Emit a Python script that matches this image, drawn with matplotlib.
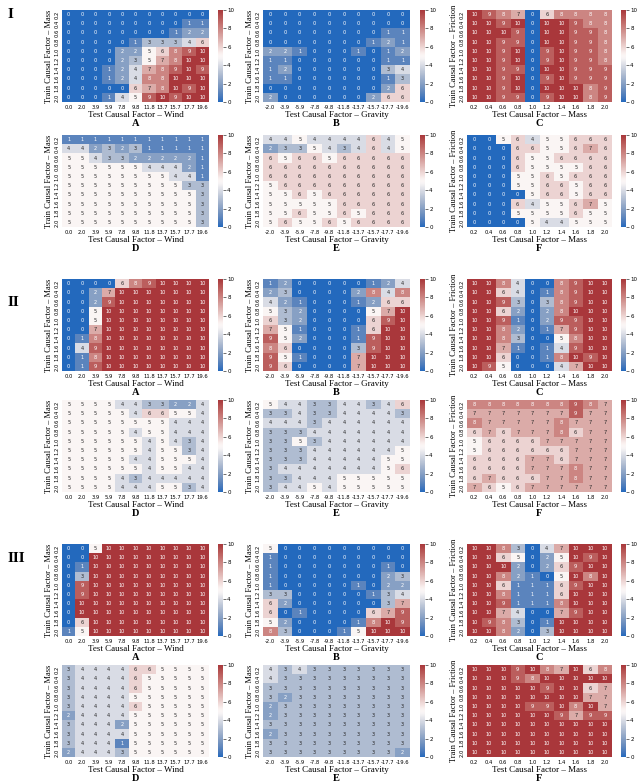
import numpy as np
import matplotlib
matplotlib.use("Agg")
import matplotlib.pyplot as plt
import seaborn as sns

# ---- tick labels ----
wind = ["0.0", "2.0", "3.9", "5.9", "7.8", "9.8", "11.8", "13.7", "15.7", "17.7", "19.6"]
gravity = ["-2.0", "-3.9", "-5.9", "-7.8", "-9.8", "-11.8", "-13.7", "-15.7", "-17.7", "-19.6"]
mass = ["0.2", "0.4", "0.6", "0.8", "1.0", "1.2", "1.4", "1.6", "1.8", "2.0"]
train = ["0.2", "0.4", "0.6", "0.8", "1.0", "1.2", "1.4", "1.6", "1.8", "2.0"]

# ---- section I ----
I_A = [[0, 0, 0, 0, 0, 0, 0, 0, 0, 0, 0],
       [0, 0, 0, 0, 0, 0, 0, 0, 0, 1, 1],
       [0, 0, 0, 0, 0, 0, 0, 0, 1, 2, 2],
       [0, 0, 0, 0, 0, 1, 3, 3, 3, 4, 6],
       [0, 0, 0, 0, 2, 2, 5, 6, 8, 9, 10],
       [0, 0, 0, 0, 2, 3, 5, 7, 8, 10, 10],
       [0, 0, 0, 1, 2, 4, 7, 8, 9, 10, 9],
       [0, 0, 0, 1, 2, 4, 8, 8, 10, 10, 10],
       [0, 0, 0, 0, 0, 6, 7, 8, 10, 9, 10],
       [0, 0, 0, 1, 4, 5, 9, 10, 9, 10, 10]]
I_B = [[0, 0, 0, 0, 0, 0, 0, 0, 0, 0],
       [0, 0, 0, 0, 0, 0, 0, 0, 0, 0],
       [0, 0, 0, 0, 0, 0, 0, 0, 1, 1],
       [0, 0, 0, 0, 0, 0, 0, 1, 2, 1],
       [2, 2, 1, 0, 0, 0, 1, 0, 1, 2],
       [1, 1, 0, 0, 0, 0, 0, 0, 1, 1],
       [1, 2, 0, 0, 0, 0, 0, 0, 3, 4],
       [1, 1, 0, 0, 0, 0, 0, 0, 1, 3],
       [0, 0, 0, 0, 0, 0, 0, 0, 2, 6],
       [2, 0, 0, 0, 0, 0, 0, 2, 6, 6]]
I_C = [[10, 9, 8, 7, 0, 6, 8, 8, 8, 8],
       [10, 10, 9, 10, 0, 10, 10, 9, 8, 8],
       [10, 10, 10, 9, 0, 10, 10, 9, 9, 8],
       [10, 10, 9, 9, 0, 10, 10, 9, 9, 8],
       [10, 10, 9, 10, 0, 9, 10, 9, 9, 8],
       [10, 10, 9, 10, 0, 9, 10, 9, 9, 8],
       [10, 10, 9, 9, 0, 10, 10, 9, 9, 9],
       [10, 10, 9, 10, 0, 9, 10, 9, 9, 9],
       [10, 10, 9, 10, 0, 10, 10, 10, 8, 9],
       [10, 10, 9, 9, 0, 9, 10, 10, 8, 9]]
I_D = [[1, 1, 1, 1, 1, 1, 1, 1, 1, 1, 1],
       [4, 4, 2, 3, 2, 3, 1, 1, 1, 1, 1],
       [5, 5, 4, 3, 3, 2, 2, 2, 2, 2, 1],
       [5, 5, 5, 5, 5, 5, 4, 4, 4, 2, 1],
       [5, 5, 5, 5, 5, 5, 5, 5, 4, 4, 1],
       [5, 5, 5, 5, 5, 5, 5, 5, 5, 3, 3],
       [5, 5, 5, 5, 5, 5, 5, 5, 5, 5, 3],
       [5, 5, 5, 5, 5, 5, 5, 5, 5, 5, 3],
       [5, 5, 5, 5, 5, 5, 5, 5, 5, 5, 3],
       [5, 5, 5, 5, 5, 5, 5, 5, 5, 5, 3]]
I_E = [[4, 4, 5, 4, 4, 4, 4, 6, 4, 5],
       [2, 3, 3, 5, 4, 3, 4, 6, 4, 5],
       [6, 5, 6, 6, 5, 6, 6, 6, 6, 6],
       [6, 6, 6, 6, 6, 6, 6, 6, 6, 6],
       [6, 6, 6, 6, 6, 6, 6, 6, 6, 6],
       [5, 6, 6, 6, 6, 6, 6, 6, 6, 6],
       [5, 5, 6, 5, 6, 6, 6, 6, 6, 6],
       [5, 5, 5, 5, 5, 6, 6, 6, 6, 6],
       [5, 5, 6, 5, 5, 6, 5, 6, 6, 6],
       [5, 6, 5, 5, 6, 5, 6, 6, 6, 6]]
I_F = [[0, 0, 5, 6, 4, 5, 5, 6, 6, 6],
       [0, 0, 0, 6, 6, 5, 5, 6, 7, 6],
       [0, 0, 0, 6, 5, 5, 6, 6, 6, 6],
       [0, 0, 0, 6, 5, 5, 5, 5, 6, 6],
       [0, 0, 0, 5, 5, 6, 5, 6, 6, 6],
       [0, 0, 0, 5, 5, 6, 6, 5, 6, 6],
       [0, 0, 0, 0, 5, 6, 6, 5, 6, 6],
       [0, 0, 0, 6, 4, 5, 5, 6, 7, 5],
       [0, 0, 0, 5, 5, 5, 5, 6, 5, 5],
       [0, 0, 0, 0, 5, 4, 4, 5, 5, 5]]

# ---- section II ----
II_A = [[0, 0, 0, 0, 6, 8, 9, 10, 10, 10, 10],
        [0, 0, 2, 7, 10, 10, 10, 10, 10, 10, 10],
        [0, 0, 2, 9, 10, 10, 10, 10, 10, 10, 10],
        [0, 0, 5, 10, 10, 10, 10, 10, 10, 10, 10],
        [0, 0, 5, 10, 10, 10, 10, 10, 10, 10, 10],
        [0, 0, 7, 10, 10, 10, 10, 10, 10, 10, 10],
        [0, 1, 8, 10, 10, 10, 10, 10, 10, 10, 10],
        [0, 4, 9, 10, 10, 10, 10, 10, 10, 10, 10],
        [0, 1, 8, 10, 10, 10, 10, 10, 10, 10, 10],
        [0, 1, 9, 10, 10, 10, 10, 10, 10, 10, 10]]
II_B = [[1, 2, 0, 0, 0, 0, 0, 1, 2, 4],
        [2, 3, 0, 0, 0, 0, 2, 8, 4, 8],
        [4, 2, 1, 0, 0, 0, 1, 2, 6, 6],
        [5, 3, 2, 0, 0, 0, 0, 5, 7, 10],
        [6, 3, 2, 0, 0, 0, 0, 6, 9, 10],
        [7, 5, 1, 0, 0, 0, 1, 6, 10, 10],
        [9, 5, 2, 0, 0, 0, 1, 9, 10, 10],
        [8, 6, 0, 0, 0, 0, 3, 9, 10, 10],
        [9, 5, 1, 0, 0, 0, 7, 10, 10, 10],
        [9, 6, 0, 0, 0, 0, 7, 10, 10, 10]]
II_C = [[10, 10, 8, 4, 0, 0, 8, 9, 10, 10],
        [10, 10, 6, 4, 0, 1, 8, 9, 10, 10],
        [10, 10, 9, 3, 0, 3, 8, 9, 10, 10],
        [10, 10, 6, 2, 0, 2, 8, 10, 10, 10],
        [10, 10, 9, 1, 0, 2, 9, 9, 10, 10],
        [10, 10, 8, 2, 0, 1, 7, 9, 10, 10],
        [10, 10, 8, 3, 0, 0, 5, 8, 10, 10],
        [10, 10, 7, 1, 0, 1, 4, 9, 10, 10],
        [10, 10, 6, 0, 0, 1, 8, 10, 9, 10],
        [10, 9, 5, 0, 0, 0, 4, 7, 10, 10]]
II_D = [[5, 5, 5, 5, 4, 4, 3, 3, 2, 2, 4],
        [5, 5, 5, 5, 5, 4, 6, 6, 5, 5, 4],
        [5, 5, 5, 5, 5, 5, 5, 5, 4, 4, 4],
        [5, 5, 5, 5, 5, 4, 5, 5, 4, 4, 4],
        [5, 5, 5, 5, 5, 5, 4, 5, 4, 3, 4],
        [5, 5, 5, 5, 5, 5, 4, 5, 5, 3, 4],
        [5, 5, 5, 5, 5, 4, 4, 5, 5, 5, 4],
        [5, 5, 5, 5, 5, 5, 4, 5, 5, 4, 4],
        [5, 5, 5, 5, 4, 3, 4, 4, 4, 4, 4],
        [5, 5, 5, 5, 4, 4, 4, 5, 5, 3, 4]]
II_E = [[5, 4, 4, 3, 3, 4, 4, 3, 4, 6],
        [3, 3, 4, 3, 3, 4, 4, 4, 4, 3],
        [4, 4, 4, 3, 4, 4, 4, 4, 4, 4],
        [3, 3, 3, 4, 4, 4, 4, 4, 4, 4],
        [3, 3, 5, 3, 4, 4, 4, 4, 4, 4],
        [3, 3, 3, 4, 4, 4, 4, 4, 4, 5],
        [3, 3, 3, 4, 4, 4, 4, 4, 5, 5],
        [3, 4, 4, 4, 4, 4, 4, 4, 5, 6],
        [3, 3, 4, 4, 4, 5, 5, 5, 5, 5],
        [3, 4, 4, 5, 4, 5, 5, 5, 5, 5]]
II_F = [[8, 8, 8, 8, 8, 8, 8, 9, 8, 7],
        [7, 7, 7, 7, 7, 7, 7, 9, 7, 7],
        [8, 7, 7, 7, 7, 7, 8, 7, 7, 7],
        [6, 7, 6, 7, 7, 7, 8, 6, 7, 7],
        [5, 6, 6, 6, 6, 7, 7, 7, 7, 7],
        [5, 6, 6, 6, 6, 6, 6, 7, 7, 7],
        [6, 6, 6, 6, 7, 7, 6, 7, 7, 7],
        [6, 6, 6, 6, 7, 7, 7, 8, 7, 7],
        [6, 7, 6, 6, 6, 7, 7, 8, 7, 7],
        [7, 6, 5, 6, 7, 7, 7, 7, 7, 7]]

# ---- section III ----
III_A = [[0, 0, 5, 10, 10, 10, 10, 10, 10, 10, 10],
         [0, 0, 10, 10, 10, 10, 10, 10, 10, 10, 10],
         [0, 1, 10, 10, 10, 10, 10, 10, 10, 10, 10],
         [0, 3, 10, 10, 10, 10, 10, 10, 10, 10, 10],
         [0, 9, 10, 10, 10, 10, 10, 10, 10, 10, 10],
         [0, 9, 10, 10, 10, 10, 10, 10, 10, 10, 10],
         [0, 10, 10, 10, 10, 10, 10, 10, 10, 10, 10],
         [0, 10, 10, 10, 10, 10, 10, 10, 10, 10, 10],
         [0, 6, 10, 10, 10, 10, 10, 10, 10, 10, 10],
         [1, 5, 10, 10, 10, 10, 10, 10, 10, 10, 10]]
III_B = [[5, 0, 0, 0, 0, 0, 0, 0, 0, 0],
         [1, 0, 0, 0, 0, 0, 0, 0, 0, 0],
         [1, 0, 0, 0, 0, 0, 0, 0, 1, 0],
         [1, 0, 0, 0, 0, 0, 0, 0, 2, 3],
         [1, 0, 0, 0, 0, 0, 1, 0, 2, 2],
         [3, 3, 0, 0, 0, 0, 0, 1, 3, 4],
         [6, 2, 0, 0, 0, 0, 0, 0, 3, 7],
         [6, 0, 1, 0, 0, 0, 0, 6, 7, 9],
         [5, 2, 0, 0, 0, 0, 1, 8, 10, 9],
         [8, 3, 0, 0, 0, 1, 5, 10, 10, 10]]
III_C = [[10, 10, 8, 3, 0, 4, 7, 10, 10, 10],
         [10, 10, 6, 5, 0, 2, 5, 10, 9, 10],
         [10, 10, 10, 2, 0, 2, 6, 9, 10, 10],
         [10, 10, 8, 2, 1, 0, 5, 10, 8, 10],
         [10, 10, 6, 1, 1, 1, 6, 9, 10, 10],
         [10, 10, 8, 1, 1, 1, 6, 10, 10, 10],
         [10, 10, 9, 1, 1, 1, 8, 10, 10, 10],
         [10, 10, 7, 4, 0, 0, 7, 9, 10, 10],
         [10, 9, 8, 3, 0, 1, 10, 10, 10, 10],
         [10, 10, 8, 2, 0, 3, 10, 10, 10, 10]]
III_D = [[3, 4, 4, 4, 4, 6, 6, 5, 5, 5, 5],
         [3, 4, 4, 4, 4, 6, 5, 5, 5, 5, 5],
         [3, 4, 4, 4, 4, 6, 5, 5, 5, 5, 5],
         [3, 4, 4, 4, 4, 5, 5, 5, 5, 5, 5],
         [3, 4, 4, 4, 4, 6, 5, 5, 5, 5, 5],
         [2, 4, 4, 4, 4, 5, 5, 5, 5, 5, 5],
         [3, 4, 4, 4, 2, 5, 5, 5, 5, 5, 5],
         [3, 4, 4, 4, 4, 5, 5, 5, 5, 5, 5],
         [3, 4, 4, 4, 1, 5, 5, 5, 5, 5, 5],
         [2, 4, 4, 4, 3, 5, 5, 5, 5, 5, 5]]
III_E = [[4, 3, 4, 3, 3, 3, 3, 3, 3, 3],
         [4, 3, 3, 3, 3, 3, 3, 3, 3, 3],
         [3, 3, 3, 3, 3, 3, 3, 3, 3, 3],
         [3, 2, 3, 3, 3, 3, 3, 3, 3, 3],
         [2, 3, 3, 3, 3, 3, 3, 3, 3, 3],
         [2, 3, 3, 3, 3, 3, 3, 3, 3, 3],
         [3, 3, 3, 3, 3, 3, 3, 3, 3, 3],
         [2, 3, 3, 3, 3, 3, 3, 3, 3, 3],
         [3, 3, 3, 3, 3, 3, 3, 3, 3, 3],
         [3, 3, 3, 3, 3, 3, 3, 3, 3, 2]]
III_F = [[10, 10, 10, 9, 10, 8, 7, 10, 6, 8],
         [10, 10, 10, 9, 8, 10, 10, 10, 10, 10],
         [10, 10, 10, 10, 10, 9, 10, 10, 6, 7],
         [10, 10, 10, 10, 10, 10, 10, 10, 7, 7],
         [10, 10, 10, 10, 9, 9, 10, 8, 10, 7],
         [10, 10, 10, 10, 10, 10, 9, 7, 9, 9],
         [10, 10, 10, 10, 10, 10, 10, 10, 10, 10],
         [10, 10, 10, 10, 10, 10, 10, 10, 10, 10],
         [10, 10, 10, 10, 10, 10, 10, 10, 10, 10],
         [10, 10, 10, 10, 10, 10, 10, 10, 10, 10]]

sections = ["I", "II", "III"]
panels = [[I_A, I_B, I_C, I_D, I_E, I_F],
          [II_A, II_B, II_C, II_D, II_E, II_F],
          [III_A, III_B, III_C, III_D, III_E, III_F]]
letters = ["A", "B", "C", "D", "E", "F"]
xticks_for = [wind, gravity, mass]
xlabel_for = ["Test Causal Factor \u2013 Wind", "Test Causal Factor \u2013 Gravity",
              "Test Causal Factor \u2013 Mass"]
ylabel_for = ["Train Causal Factor \u2013 Mass", "Train Causal Factor \u2013 Mass",
              "Train Causal Factor \u2013 Friction"]

W, H = 640, 784
fig = plt.figure(figsize=(W / 100, H / 100), dpi=100)
serif = "Liberation Serif"


def box(x, y, w, h):
    # pixel box (top-left origin) -> figure fraction
    return [x / W, 1 - (y + h) / H, w / W, h / H]


col_x = [62, 263, 467]
col_w = [147, 147, 145]
cbar_x = [218, 420, 621]
row_y = [10, 135, 279, 400, 544, 665]
hm_h = 92
roman_y = [14, 302, 558]

for s, sec in enumerate(sections):
    fig.text(8 / W, 1 - roman_y[s] / H, sec, family=serif, fontsize=11,
             fontweight="bold", ha="left", va="center")
    for p in range(6):
        r = s * 2 + p // 3
        c = p % 3
        ax = fig.add_axes(box(col_x[c], row_y[r], col_w[c], hm_h))
        cax = fig.add_axes(box(cbar_x[c], row_y[r], 5, hm_h))
        data = np.array(panels[s][p])
        sns.heatmap(data, ax=ax, cbar_ax=cax, cmap="vlag", vmin=0, vmax=10,
                    annot=True, fmt="d", annot_kws={"size": 3.6},
                    xticklabels=xticks_for[c], yticklabels=train)
        ax.tick_params(axis="both", length=0, labelsize=3.8, pad=2)
        ax.set_yticklabels(train, rotation=90, va="center")
        ax.set_xticklabels(xticks_for[c], rotation=0)
        ax.set_xlabel(xlabel_for[c], family=serif, fontsize=6.5, labelpad=1)
        ax.set_ylabel(ylabel_for[c], family=serif, fontsize=6, labelpad=1)
        ax.text(0.5, -0.235, letters[p], transform=ax.transAxes, family=serif,
                fontsize=7.5, fontweight="bold", ha="center", va="center")
        cax.tick_params(labelsize=4, length=2, width=0.4, pad=1)
        cax.set_yticks([0, 2, 4, 6, 8, 10])
        for sp in cax.spines.values():
            sp.set_visible(False)

fig.savefig("out.png", dpi=100)
